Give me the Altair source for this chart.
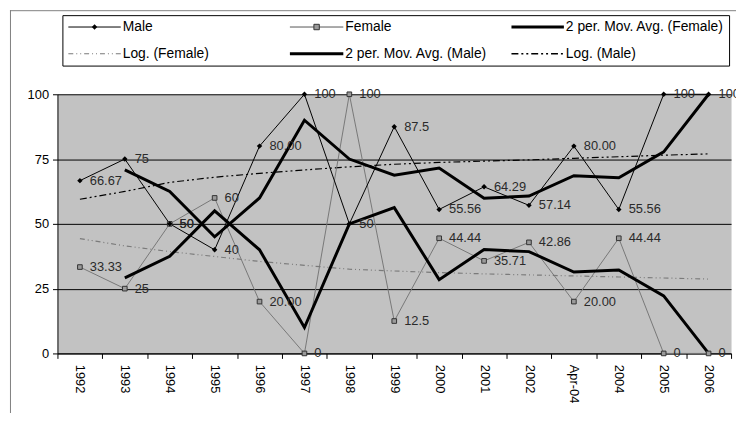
import altair as alt
import pandas as pd

years = ["1992", "1993", "1994", "1995", "1996", "1997", "1998", "1999",
         "2000", "2001", "2002", "Apr-04", "2004", "2005", "2006"]
male = [66.67, 75, 50, 40, 80, 100, 50, 87.5, 55.56, 64.29, 57.14, 80, 55.56, 100, 100]
female = [33.33, 25, 50, 60, 20, 0, 100, 12.5, 44.44, 35.71, 42.86, 20, 44.44, 0, 0]
male_lbl = ["66.67", "75", "50", "40", "80.00", "100", "50", "87.5", "55.56",
            "64.29", "57.14", "80.00", "55.56", "100", "100"]
female_lbl = ["33.33", "25", "50", "60", "20.00", "0", "100", "12.5", "44.44",
              "35.71", "42.86", "20.00", "44.44", "0", "0"]
ma_male = [None, 70.83, 62.5, 45, 60, 90, 75, 68.75, 71.53, 59.92, 60.71, 68.57, 67.78, 77.78, 100]
ma_female = [None, 29.17, 37.5, 55, 40, 10, 50, 56.25, 28.47, 40.08, 39.29, 31.43, 32.22, 22.22, 0]
log_male = [59.5, 62.5, 66, 68, 69.5, 70.8, 72, 73, 73.7, 74.2, 74.7, 75.3, 75.9, 76.5, 77]
log_female = [44.3, 41.5, 39.3, 37.4, 35.5, 34, 32.5, 31.8, 31.2, 30.7, 30.3, 29.9, 29.5, 29.1, 28.7]

legend_names = ["Male", "Female", "2 per. Mov. Avg. (Female)",
                "Log. (Female)", "2 per. Mov. Avg. (Male)", "Log. (Male)"]

df = pd.DataFrame({
    "year": years, "male": male, "female": female,
    "male_lbl": male_lbl, "female_lbl": female_lbl,
    "ma_male": ma_male, "ma_female": ma_female,
    "log_male": log_male, "log_female": log_female,
})

FONT = "Liberation Sans"

x_enc = alt.X("year:O", sort=years, title=None,
              scale=alt.Scale(type="band", paddingInner=0, paddingOuter=0),
              axis=alt.Axis(labelAngle=90, tickBand="extent", tickSize=5,
                            labelPadding=6, labelFontSize=13, labelColor="black",
                            domainColor="black", tickColor="black", grid=False,
                            labelAlign="left", labelBaseline="middle"))

yscale = alt.Scale(domain=[0, 100], nice=False)
yaxis = alt.Axis(values=[0, 25, 50, 75, 100], grid=True, gridColor="black",
                 gridOpacity=1, gridWidth=1, tickSize=5, labelPadding=4,
                 labelFontSize=13, labelColor="black", domainColor="black",
                 tickColor="black")


def y(field):
    return alt.Y(f"{field}:Q", scale=yscale, axis=yaxis, title=None)


base = alt.Chart(df)

log_f = base.mark_line(color="#7a7a7a", strokeWidth=1.2,
                       strokeDash=[5, 3, 1, 3, 1, 3]).encode(x=x_enc, y=y("log_female"))
log_m = base.mark_line(color="black", strokeWidth=1.2,
                       strokeDash=[7, 3, 2, 3, 2, 3]).encode(x=x_enc, y=y("log_male"))
line_f = base.mark_line(color="#777777", strokeWidth=1).encode(x=x_enc, y=y("female"))
line_m = base.mark_line(color="black", strokeWidth=1).encode(x=x_enc, y=y("male"))
ma_f = base.mark_line(color="black", strokeWidth=3).encode(x=x_enc, y=y("ma_female"))
ma_m = base.mark_line(color="black", strokeWidth=3).encode(x=x_enc, y=y("ma_male"))
pt_m = base.mark_point(shape="diamond", filled=True, color="black", size=30,
                       opacity=1).encode(x=x_enc, y=y("male"))
pt_f = base.mark_point(shape="square", filled=True, fill="#9a9a9a", stroke="#333333",
                       strokeWidth=1, size=22, opacity=1).encode(x=x_enc, y=y("female"))
txt_m = base.mark_text(align="left", baseline="middle", dx=10, font=FONT,
                       fontSize=13, color="#2a2a2a").encode(
    x=x_enc, y=y("male"), text="male_lbl:N")
txt_f = base.mark_text(align="left", baseline="middle", dx=10, font=FONT,
                       fontSize=13, color="#2a2a2a").encode(
    x=x_enc, y=y("female"), text="female_lbl:N")

# decorations: outer chart border and legend box
dummy = pd.DataFrame({"d": [0]})
deco = []
deco.append(alt.Chart(dummy).mark_rule(color="#808080", strokeWidth=1).encode(
    x=alt.value(-48), x2=alt.value(700), y=alt.value(-84.5)))
deco.append(alt.Chart(dummy).mark_rule(color="#808080", strokeWidth=1).encode(
    x=alt.value(-47.5), y=alt.value(-85), y2=alt.value(330)))
deco.append(alt.Chart(dummy).mark_rect(fill="white", stroke="black", strokeWidth=1).encode(
    x=alt.value(5.5), x2=alt.value(679.5), y=alt.value(-79.5), y2=alt.value(-28.5)))

col_x = [11, 235, 459]
col_len = [53, 54, 53]
row_y = [-68, -41]
styles = [
    dict(color="black", strokeWidth=1),
    dict(color="#555555", strokeWidth=1),
    dict(color="black", strokeWidth=3),
    dict(color="#7a7a7a", strokeWidth=1.2, strokeDash=[5, 3, 1, 3, 1, 3]),
    dict(color="black", strokeWidth=3),
    dict(color="black", strokeWidth=1.5, strokeDash=[7, 3, 2, 3, 2, 3]),
]
for i, name in enumerate(legend_names):
    r, c = divmod(i, 3)
    x0 = col_x[c]
    x1 = x0 + col_len[c]
    deco.append(alt.Chart(dummy).mark_rule(**styles[i]).encode(
        x=alt.value(x0), x2=alt.value(x1), y=alt.value(row_y[r])))
    deco.append(alt.Chart(dummy).mark_text(
        text=name, align="left", baseline="middle", font=FONT, fontSize=14,
        color="black").encode(x=alt.value(x1 + 2), y=alt.value(row_y[r])))
    if i == 0:
        deco.append(alt.Chart(dummy).mark_point(
            shape="diamond", filled=True, color="black", size=30, opacity=1).encode(
            x=alt.value((x0 + x1) / 2), y=alt.value(row_y[r])))
    if i == 1:
        deco.append(alt.Chart(dummy).mark_point(
            shape="square", filled=True, fill="#9a9a9a", stroke="#333333",
            strokeWidth=1, size=30, opacity=1).encode(
            x=alt.value((x0 + x1) / 2), y=alt.value(row_y[r])))

chart = alt.layer(
    log_f, log_m, line_f, line_m, ma_f, ma_m, pt_f, pt_m, txt_f, txt_m, *deco
).properties(
    width=681, height=262,
    autosize=alt.AutoSizeParams(type="none"),
    padding={"left": 50, "top": 85, "right": 5, "bottom": 58},
).configure_view(
    fill="#c2c2c2", stroke="transparent"
).configure_axis(
    labelFont=FONT
)

chart.save("out.html", embed_options={"renderer": "svg", "actions": False})
